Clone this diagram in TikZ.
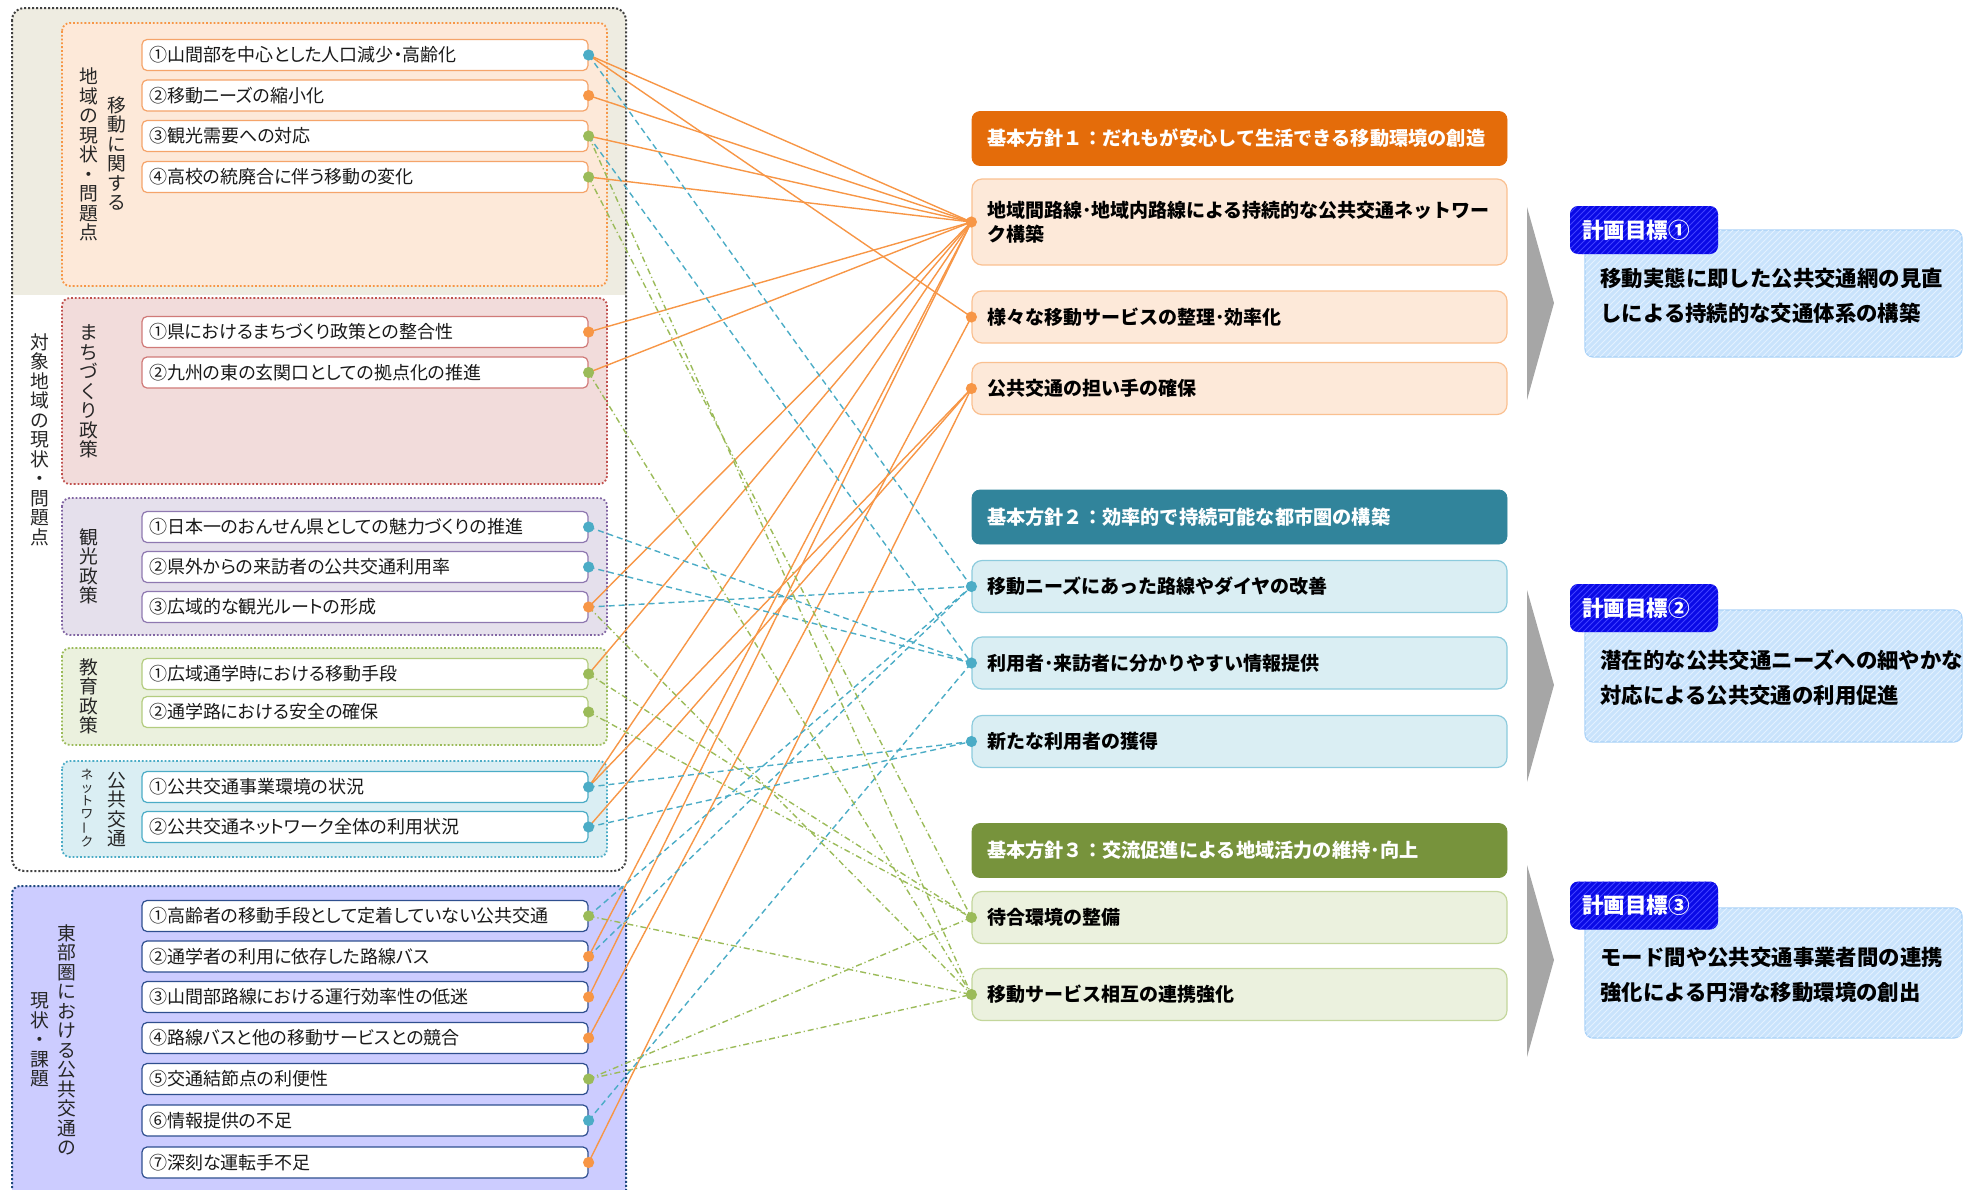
\documentclass[tikz,border=0pt]{standalone}
\usepackage{fontspec}
\setmainfont{Noto Sans CJK JP}[RawFeature=+palt]
\newfontfamily\jpv{Noto Sans CJK JP}
\usetikzlibrary{patterns}
\definecolor{cO}{HTML}{F79646}
\definecolor{cB}{HTML}{4BACC6}
\definecolor{cG}{HTML}{9BBB59}
\definecolor{beige}{HTML}{EEECE1}
\definecolor{outerB}{HTML}{404040}
\definecolor{fA}{HTML}{FDE9D9}
\definecolor{bA}{HTML}{F79646}
\definecolor{iA}{HTML}{F5A46A}
\definecolor{fB}{HTML}{F2DCDB}
\definecolor{bB}{HTML}{C0504D}
\definecolor{iB}{HTML}{D07A78}
\definecolor{fC}{HTML}{E5E0EC}
\definecolor{bC}{HTML}{8064A2}
\definecolor{iC}{HTML}{8E78B0}
\definecolor{fD}{HTML}{EBF1DE}
\definecolor{bD}{HTML}{9BBB59}
\definecolor{iD}{HTML}{B3CC7F}
\definecolor{fE}{HTML}{DAEEF3}
\definecolor{bE}{HTML}{4BACC6}
\definecolor{iE}{HTML}{4BACC6}
\definecolor{fF}{HTML}{CCCCFF}
\definecolor{bF}{HTML}{1F497D}
\definecolor{iF}{HTML}{2F4F8F}
\definecolor{h1c}{HTML}{E46C0A}
\definecolor{h2c}{HTML}{31849B}
\definecolor{h3c}{HTML}{77933C}
\definecolor{s1f}{HTML}{FDE9D9}
\definecolor{s1b}{HTML}{FAC090}
\definecolor{s2f}{HTML}{DAEEF3}
\definecolor{s2b}{HTML}{8CCBDD}
\definecolor{s3f}{HTML}{EBF1DE}
\definecolor{s3b}{HTML}{C3D69B}
\definecolor{chev}{HTML}{A6A6A6}
\definecolor{gfill}{HTML}{C9E3FC}
\definecolor{gstripe}{HTML}{E3F1FF}
\definecolor{gborder}{HTML}{A9D1F7}
\definecolor{tfill}{HTML}{0A0AE6}
\definecolor{tstripe}{HTML}{4040FF}
\begin{document}
\begin{tikzpicture}[x=0.5pt,y=-0.5pt,
  itm/.style={draw=#1, fill=white, rounded corners=2.5pt, line width=0.6pt,
    minimum width=223pt, minimum height=15.5pt, text width=216pt, align=left,
    inner xsep=3.5pt, inner ysep=0pt, font=\fontsize{9pt}{10pt}\selectfont, text=black!90},
  grp/.style 2 args={draw=#1, fill=#2, densely dotted, line width=0.9pt, rounded corners=4pt},
  vlab/.style={align=center, inner sep=0pt, font=\jpv\fontsize{9.4pt}{9.75pt}\selectfont, text=black!85},
  hdr/.style={fill=#1, draw=#1, rounded corners=4pt, minimum width=267.5pt, minimum height=27pt,
    text width=252.5pt, align=left, inner xsep=7.5pt, inner ysep=0pt, text=white,
    font=\jpv\bfseries\fontsize{9.6pt}{12pt}\selectfont},
  sub/.style 2 args={fill=#2, draw=#1, line width=0.6pt, rounded corners=5pt,
    minimum width=267.5pt, minimum height=26pt, text width=252.5pt, align=left,
    inner xsep=7.5pt, inner ysep=0pt, text=black, font=\jpv\bfseries\fontsize{9.5pt}{12.2pt}\selectfont},
  goalbox/.style={fill=gfill, draw=gborder, line width=0.6pt, rounded corners=4pt,
    minimum width=188.5pt, postaction={pattern=north east lines, pattern color=gstripe}},
  goaltab/.style={fill=tfill, rounded corners=4pt, minimum width=74pt, minimum height=24pt,
    text width=62pt, align=left, inner xsep=6pt, inner ysep=0pt, text=white,
    font=\jpv\bfseries\fontsize{10.8pt}{12pt}\selectfont,
    postaction={pattern=north east lines, pattern color=tstripe}},
  goaltext/.style={anchor=west, align=left, inner sep=0pt, text=black,
    font=\jpv\bfseries\fontsize{10.7pt}{17.5pt}\selectfont},
  conO/.style={cO, line width=0.7pt},
  conB/.style={cB, line width=0.7pt, dash pattern=on 3pt off 2pt},
  conG/.style={cG, line width=0.7pt, dash pattern=on 3pt off 1.5pt on 0.6pt off 1.5pt},
]
\useasboundingbox (0,0) rectangle (1970,1189);
\clip (0,0) rectangle (1970,1189);

% ---------- outer left frame ----------
\fill[white, rounded corners=6pt] (12,8) rectangle (626,871);
\begin{scope}
  \clip[rounded corners=6pt] (12,8) rectangle (626,871);
  \fill[beige] (12,8) rectangle (626,295);
\end{scope}
\draw[outerB, densely dotted, line width=1pt, rounded corners=6pt] (12,8) rectangle (626,871);

% ---------- group boxes ----------
\draw[grp={bA}{fA}] (62,23) rectangle (607,286);
\draw[grp={bB}{fB}] (62,298) rectangle (607,484);
\draw[grp={bC}{fC}] (62,498) rectangle (607,635);
\draw[grp={bD}{fD}] (62,648) rectangle (607,745);
\draw[grp={bE}{fE}] (62,761) rectangle (607,857);
\draw[grp={bF}{fF}, line width=1pt] (12,886) rectangle (626,1215);

% ---------- vertical labels ----------
\node[vlab] (lblA1) at (89,154.5) {地\\域\\の\\現\\状\\・\\問\\題\\点};
\node[vlab] (lblA2) at (117,153.5) {移\\動\\に\\関\\す\\る};
\node[vlab] (lblAll) at (40,439.5) {対\\象\\地\\域\\の\\現\\状\\・\\問\\題\\点};
\node[vlab] (lblB) at (89,391.5) {ま\\ち\\づ\\く\\り\\政\\策};
\node[vlab] (lblC) at (89,566.5) {観\\光\\政\\策};
\node[vlab] (lblD) at (89,696.5) {教\\育\\政\\策};
\node[vlab] (lblE1) at (117,809.5) {公\\共\\交\\通};
\node[vlab, font=\jpv\fontsize{6.4pt}{6.4pt}\selectfont] (lblE2) at (87,808.5) {ネ\\ッ\\ト\\ワ\\\rotatebox[origin=c]{90}{ー}\\ク};
\node[vlab] (lblF1) at (67,1040) {東\\部\\圏\\に\\お\\け\\る\\公\\共\\交\\通\\の};
\node[vlab] (lblF2) at (40,1040) {現\\状\\・\\課\\題};

% ---------- left items ----------
\node[itm=iA] (a1) at (365,55) {①山間部を中心とした人口減少・高齢化};
\node[itm=iA] (a2) at (365,95.5) {②移動ニーズの縮小化};
\node[itm=iA] (a3) at (365,136) {③観光需要への対応};
\node[itm=iA] (a4) at (365,177) {④高校の統廃合に伴う移動の変化};
\node[itm=iB] (b1) at (365,332) {①県におけるまちづくり政策との整合性};
\node[itm=iB] (b2) at (365,372.5) {②九州の東の玄関口としての拠点化の推進};
\node[itm=iC] (c1) at (365,527) {①日本一のおんせん県としての魅力づくりの推進};
\node[itm=iC] (c2) at (365,567) {②県外からの来訪者の公共交通利用率};
\node[itm=iC] (c3) at (365,607) {③広域的な観光ルートの形成};
\node[itm=iD] (d1) at (365,674) {①広域通学時における移動手段};
\node[itm=iD] (d2) at (365,712) {②通学路における安全の確保};
\node[itm=iE] (e1) at (365,787) {①公共交通事業環境の状況};
\node[itm=iE] (e2) at (365,827) {②公共交通ネットワーク全体の利用状況};
\node[itm=iF] (f1) at (365,916) {①高齢者の移動手段として定着していない公共交通};
\node[itm=iF] (f2) at (365,956.5) {②通学者の利用に依存した路線バス};
\node[itm=iF] (f3) at (365,997) {③山間部路線における運行効率性の低迷};
\node[itm=iF] (f4) at (365,1038) {④路線バスと他の移動サービスとの競合};
\node[itm=iF] (f5) at (365,1079) {⑤交通結節点の利便性};
\node[itm=iF] (f6) at (365,1120.5) {⑥情報提供の不足};
\node[itm=iF] (f7) at (365,1162.5) {⑦深刻な運転手不足};

% ---------- right column ----------
\node[hdr=h1c] (h1) at (1239.5,138.5) {基本方針１：だれもが安心して生活できる移動環境の創造};
\node[sub={s1b}{s1f}, minimum height=43pt] (s1a) at (1239.5,222) {地域間路線･地域内路線による持続的な公共交通ネットワー\\ク構築};
\node[sub={s1b}{s1f}] (s1b) at (1239.5,317) {様々な移動サービスの整理･効率化};
\node[sub={s1b}{s1f}] (s1c) at (1239.5,388.5) {公共交通の担い手の確保};
\node[hdr=h2c] (h2) at (1239.5,517) {基本方針２：効率的で持続可能な都市圏の構築};
\node[sub={s2b}{s2f}] (s2a) at (1239.5,586.5) {移動ニーズにあった路線やダイヤの改善};
\node[sub={s2b}{s2f}] (s2b) at (1239.5,663) {利用者･来訪者に分かりやすい情報提供};
\node[sub={s2b}{s2f}] (s2c) at (1239.5,741.5) {新たな利用者の獲得};
\node[hdr=h3c] (h3) at (1239.5,850.5) {基本方針３：交流促進による地域活力の維持･向上};
\node[sub={s3b}{s3f}] (s3a) at (1239.5,917.5) {待合環境の整備};
\node[sub={s3b}{s3f}] (s3b) at (1239.5,994.5) {移動サービス相互の連携強化};

% ---------- chevrons ----------
\fill[chev] (1527,207) -- (1554,303) -- (1527,400) -- cycle;
\fill[chev] (1527,590) -- (1554,685) -- (1527,782) -- cycle;
\fill[chev] (1527,865) -- (1554,960) -- (1527,1057) -- cycle;

% ---------- goals ----------
\node[goalbox, minimum height=63.5pt] (g1) at (1773.5,293.5) {};
\node[goaltab] (t1) at (1644,230) {計画目標①};
\node[goaltext] (g1t) at (1600,295.5) {移動実態に即した公共交通網の見直\\しによる持続的な交通体系の構築};
\node[goalbox, minimum height=66pt] (g2) at (1773.5,676) {};
\node[goaltab] (t2) at (1644,608) {計画目標②};
\node[goaltext] (g2t) at (1600,677.5) {潜在的な公共交通ニーズへの細やかな\\対応による公共交通の利用促進};
\node[goalbox, minimum height=65pt] (g3) at (1773.5,973) {};
\node[goaltab] (t3) at (1644,905.5) {計画目標③};
\node[goaltext] (g3t) at (1600,975) {モード間や公共交通事業者間の連携\\強化による円滑な移動環境の創出};

% ---------- connectors ----------
\foreach \s/\t in {a1/s1a,a1/s1b,a2/s1a,a3/s1a,a4/s1a,b1/s1a,b2/s1a,c3/s1a,d1/s1a,
  e1/s1a,e1/s1c,e2/s1c,f2/s1a,f3/s1a,f4/s1b,f7/s1c}
  \draw[conO] (\s.east) -- (\t.west);
\foreach \s/\t in {a1/s2a,a3/s2b,c1/s2b,c2/s2b,c3/s2a,e1/s2c,e2/s2c,f1/s2a,f2/s2a,f6/s2b}
  \draw[conB] (\s.east) -- (\t.west);
\foreach \s/\t in {a3/s3b,a4/s3a,b2/s3b,c3/s3b,d1/s3a,d2/s3a,f1/s3b,f5/s3a,f5/s3b}
  \draw[conG] (\s.east) -- (\t.west);

% ---------- dots ----------
\foreach \n/\c in {a1/cB,a2/cO,a3/cG,a4/cG,b1/cO,b2/cG,c1/cB,c2/cB,c3/cO,d1/cG,d2/cG,
  e1/cB,e2/cB,f1/cG,f2/cO,f3/cO,f4/cO,f5/cG,f6/cB,f7/cO}
  \fill[\c] (\n.east) circle (2.8pt);
\foreach \n/\c in {s1a/cO,s1b/cO,s1c/cO,s2a/cB,s2b/cB,s2c/cB,s3a/cG,s3b/cG}
  \fill[\c] (\n.west) circle (2.8pt);
\end{tikzpicture}
\end{document}
